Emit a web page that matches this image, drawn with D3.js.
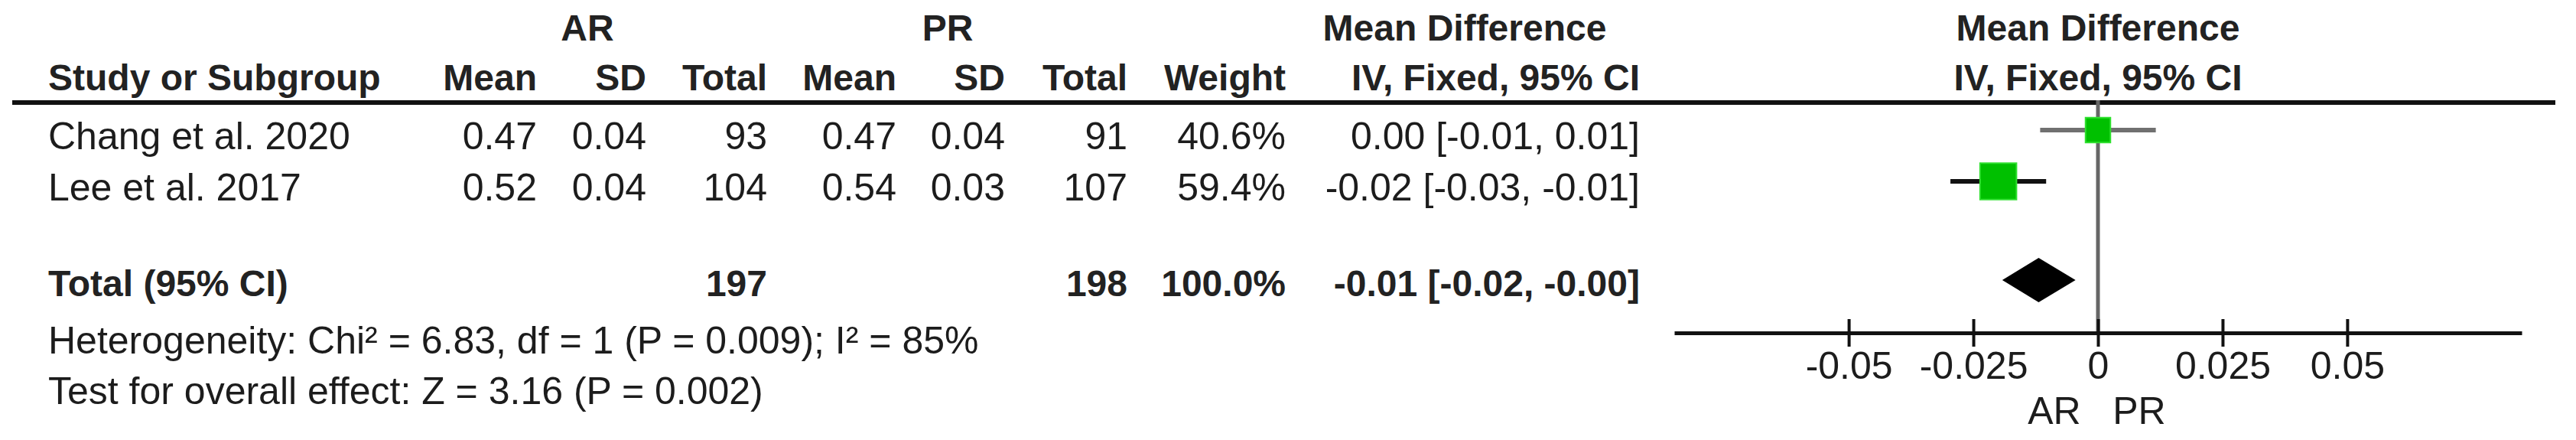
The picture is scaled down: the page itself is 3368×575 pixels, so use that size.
<!DOCTYPE html>
<html lang="en">
<head>
<meta charset="utf-8">
<title>Forest plot AR vs PR</title>
<script src="https://cdn.jsdelivr.net/npm/d3@7"></script>
<style>
    body { margin: 0; background: #fff; }
    text { font-family: "Liberation Sans", Arial, sans-serif; font-size: 50px; fill: #1c1c1c; }
    .bold { font-weight: bold; font-size: 48px; fill: #222; }
</style>
</head>
<body>
<svg width="3368" height="575"></svg>
<script>
// study data
const studies  = ["Chang et al. 2020", "Lee et al. 2017"];
const arMean   = [0.47, 0.52];
const arSD     = [0.04, 0.04];
const arTotal  = [93, 104];
const prMean   = [0.47, 0.54];
const prSD     = [0.04, 0.03];
const prTotal  = [91, 107];
const weights  = [40.6, 59.4];
const md       = [0.00, -0.02];
const ciLow    = [-0.0116, -0.0296];
const ciHigh   = [0.0116, -0.0104];

// pooled estimate
const totalMD = -0.0119, totalLow = -0.0192, totalHigh = -0.0045;

const tickValues = [-0.05, -0.025, 0, 0.025, 0.05];
const heterogeneity = "Heterogeneity: Chi\u00B2 = 6.83, df = 1 (P = 0.009); I\u00B2 = 85%";
const overallTest = "Test for overall effect: Z = 3.16 (P = 0.002)";

let svg = d3.select("svg");

// right edges of the table columns
const colRight = { arMean: 702, arSD: 845, arTotal: 1003, prMean: 1172, prSD: 1314, prTotal: 1474, weight: 1681, ci: 2144 };
const rowY = [195, 262];        // baselines of study rows
const totalY = 387;

function txt(x, y, s, anchor, cls) {
    return svg.append("text").attr("x", x).attr("y", y)
        .attr("text-anchor", anchor || "start")
        .attr("class", cls || null)
        .text(s);
}

const f2 = v => v.toFixed(2);
const ciText = (m, lo, hi) => f2(m) + " [" + f2(lo) + ", " + f2(hi) + "]";

// header
txt(768, 53, "AR", "middle", "bold");
txt(1239, 53, "PR", "middle", "bold");
txt(1915, 53, "Mean Difference", "middle", "bold");
txt(2743, 53, "Mean Difference", "middle", "bold");

txt(63, 118, "Study or Subgroup", "start", "bold");
[["Mean", "arMean"], ["SD", "arSD"], ["Total", "arTotal"], ["Mean", "prMean"], ["SD", "prSD"],
 ["Total", "prTotal"], ["Weight", "weight"], ["IV, Fixed, 95% CI", "ci"]].forEach(([lab, key]) => {
    txt(colRight[key], 118, lab, "end", "bold");
});
txt(2743, 118, "IV, Fixed, 95% CI", "middle", "bold");

svg.append("line").attr("x1", 16).attr("x2", 3341).attr("y1", 134).attr("y2", 134)
    .attr("stroke", "#111").attr("stroke-width", 6);

// study rows
studies.forEach((s, i) => {
    let y = rowY[i];
    txt(63, y, s);
    txt(colRight.arMean, y, f2(arMean[i]), "end");
    txt(colRight.arSD, y, f2(arSD[i]), "end");
    txt(colRight.arTotal, y, arTotal[i], "end");
    txt(colRight.prMean, y, f2(prMean[i]), "end");
    txt(colRight.prSD, y, f2(prSD[i]), "end");
    txt(colRight.prTotal, y, prTotal[i], "end");
    txt(colRight.weight, y, weights[i].toFixed(1) + "%", "end");
    txt(colRight.ci, y, ciText(md[i], ciLow[i], ciHigh[i]), "end");
});

// total row
txt(63, totalY, "Total (95% CI)", "start", "bold");
txt(colRight.arTotal, totalY, d3.sum(arTotal), "end", "bold");
txt(colRight.prTotal, totalY, d3.sum(prTotal), "end", "bold");
txt(colRight.weight, totalY, d3.sum(weights).toFixed(1) + "%", "end", "bold");
txt(colRight.ci, totalY, ciText(totalMD, totalLow, totalHigh), "end", "bold");

txt(63, 462, heterogeneity);
txt(63, 528, overallTest);

// forest plot
let x = d3.scaleLinear().domain([-0.085, 0.085]).range([2189, 3297]);
let size = d3.scaleLinear().domain([0, 100]).range([0, 80]);
const axisY = 435;

svg.append("line").attr("x1", x(0)).attr("x2", x(0)).attr("y1", 131).attr("y2", axisY)
    .attr("stroke", "#666").attr("stroke-width", 5);

studies.forEach((s, i) => {
    let cy = rowY[i] - 25;
    svg.append("line").attr("x1", x(ciLow[i])).attr("x2", x(ciHigh[i]))
        .attr("y1", cy).attr("y2", cy)
        .attr("stroke", i === 0 ? "#707070" : "#111").attr("stroke-width", 6);
    let w = size(weights[i]);
    svg.append("rect").attr("x", x(md[i]) - w / 2).attr("y", cy - w / 2)
        .attr("width", w).attr("height", w)
        .attr("fill", "#00c000").attr("stroke", "#2fe02f").attr("stroke-width", 2);
});

const dy = 366;
svg.append("path")
    .attr("d", `M${x(totalLow)},${dy} L${x(totalMD)},${dy - 29} L${x(totalHigh)},${dy} L${x(totalMD)},${dy + 29} Z`)
    .attr("fill", "#000");

let axis = svg.append("g").attr("transform", `translate(0,${axisY})`)
    .call(d3.axisBottom(x).tickValues(tickValues).tickSizeOuter(0).tickFormat(d => String(d)));
axis.select(".domain").attr("stroke", "#111").attr("stroke-width", 5);
axis.selectAll(".tick line").attr("y1", -18).attr("y2", 18).attr("stroke", "#111").attr("stroke-width", 4);
axis.selectAll(".tick text").attr("y", 60).attr("dy", null)
    .style("font-family", "'Liberation Sans', Arial, sans-serif").style("font-size", "50px").attr("fill", "#1c1c1c");

txt(x(0) - 57, 554, "AR", "middle");
txt(x(0) + 54, 554, "PR", "middle");
</script>
</body>
</html>
